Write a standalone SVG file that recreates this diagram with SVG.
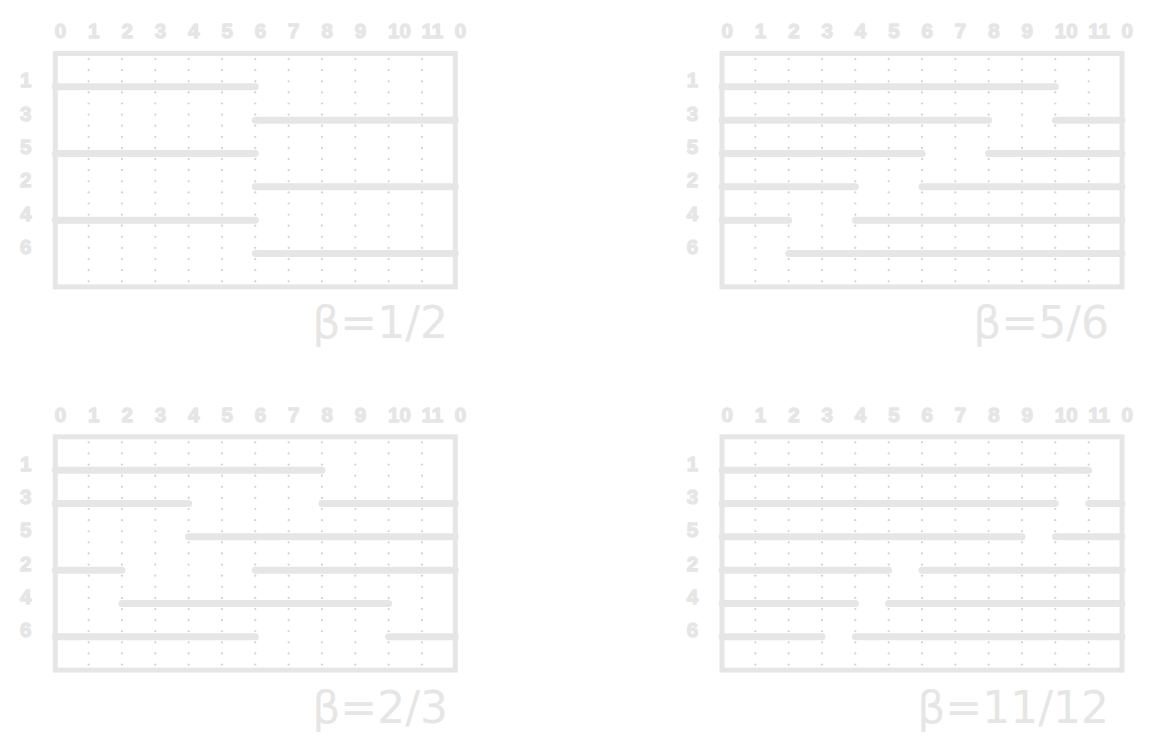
<svg xmlns="http://www.w3.org/2000/svg" xmlns:xlink="http://www.w3.org/1999/xlink" width="1154" height="754" viewBox="0 0 1154 754">
<style>
.frame{fill:none;stroke:#e6e6e6;stroke-width:5}
.dot{stroke:#d2d2d2;stroke-width:2.2;stroke-linecap:round;stroke-dasharray:0 11.111}
.seg{stroke:#e6e6e6;stroke-width:7;stroke-linecap:round;fill:none}
.lab{font-family:"Liberation Sans",Arial,sans-serif;font-weight:bold;font-size:20.5px;fill:#e6e6e6;stroke:#e6e6e6;stroke-width:1.3;stroke-linejoin:round}
.beta{font-family:"DejaVu Sans",sans-serif;font-size:44px;fill:#e6e6e6;text-anchor:end}
</style>
<rect width="1154" height="754" fill="#ffffff"/>
<defs>
<g id="grid">
<g>
<line class="dot" x1="33.333" y1="5.556" x2="33.333" y2="229"/>
<line class="dot" x1="66.667" y1="5.556" x2="66.667" y2="229"/>
<line class="dot" x1="100" y1="5.556" x2="100" y2="229"/>
<line class="dot" x1="133.333" y1="5.556" x2="133.333" y2="229"/>
<line class="dot" x1="166.667" y1="5.556" x2="166.667" y2="229"/>
<line class="dot" x1="200" y1="5.556" x2="200" y2="229"/>
<line class="dot" x1="233.333" y1="5.556" x2="233.333" y2="229"/>
<line class="dot" x1="266.667" y1="5.556" x2="266.667" y2="229"/>
<line class="dot" x1="300" y1="5.556" x2="300" y2="229"/>
<line class="dot" x1="333.333" y1="5.556" x2="333.333" y2="229"/>
<line class="dot" x1="366.667" y1="5.556" x2="366.667" y2="229"/>
</g>
<rect class="frame" x="0" y="0" width="400" height="233.333"/>
<g class="lab">
<text x="-0.5" y="-15.3">0</text>
<text x="32.8" y="-15.3">1</text>
<text x="66.2" y="-15.3">2</text>
<text x="99.5" y="-15.3">3</text>
<text x="132.8" y="-15.3">4</text>
<text x="166.2" y="-15.3">5</text>
<text x="199.5" y="-15.3">6</text>
<text x="232.8" y="-15.3">7</text>
<text x="266.2" y="-15.3">8</text>
<text x="299.5" y="-15.3">9</text>
<text x="332.8" y="-15.3">10</text>
<text x="366.2" y="-15.3">11</text>
<text x="399.5" y="-15.3">0</text>
<text x="-35.3" y="33.9">1</text>
<text x="-35.3" y="67.2">3</text>
<text x="-35.3" y="100.6">5</text>
<text x="-35.3" y="133.9">2</text>
<text x="-35.3" y="167.2">4</text>
<text x="-35.3" y="200.6">6</text>
</g>
</g>
</defs>

<g id="panel-half" transform="translate(55.3,53.5)">
<use xlink:href="#grid" href="#grid"/>
<g class="seg">
<line x1="0" y1="33.333" x2="200" y2="33.333"/>
<line x1="200" y1="66.667" x2="400" y2="66.667"/>
<line x1="0" y1="100" x2="200" y2="100"/>
<line x1="200" y1="133.333" x2="400" y2="133.333"/>
<line x1="0" y1="166.667" x2="200" y2="166.667"/>
<line x1="200" y1="200" x2="400" y2="200"/>
</g>
</g>

<g id="panel-five-sixths" transform="translate(722,53.5)">
<use xlink:href="#grid" href="#grid"/>
<g class="seg">
<line x1="0" y1="33.333" x2="333.333" y2="33.333"/>
<line x1="0" y1="66.667" x2="266.667" y2="66.667"/>
<line x1="333.333" y1="66.667" x2="400" y2="66.667"/>
<line x1="0" y1="100" x2="200" y2="100"/>
<line x1="266.667" y1="100" x2="400" y2="100"/>
<line x1="0" y1="133.333" x2="133.333" y2="133.333"/>
<line x1="200" y1="133.333" x2="400" y2="133.333"/>
<line x1="0" y1="166.667" x2="66.667" y2="166.667"/>
<line x1="133.333" y1="166.667" x2="400" y2="166.667"/>
<line x1="66.667" y1="200" x2="400" y2="200"/>
</g>
</g>

<g id="panel-two-thirds" transform="translate(55.3,436.8)">
<use xlink:href="#grid" href="#grid"/>
<g class="seg">
<line x1="0" y1="33.333" x2="266.667" y2="33.333"/>
<line x1="0" y1="66.667" x2="133.333" y2="66.667"/>
<line x1="266.667" y1="66.667" x2="400" y2="66.667"/>
<line x1="133.333" y1="100" x2="400" y2="100"/>
<line x1="0" y1="133.333" x2="66.667" y2="133.333"/>
<line x1="200" y1="133.333" x2="400" y2="133.333"/>
<line x1="66.667" y1="166.667" x2="333.333" y2="166.667"/>
<line x1="0" y1="200" x2="200" y2="200"/>
<line x1="333.333" y1="200" x2="400" y2="200"/>
</g>
</g>

<g id="panel-eleven-twelfths" transform="translate(722,436.8)">
<use xlink:href="#grid" href="#grid"/>
<g class="seg">
<line x1="0" y1="33.333" x2="366.667" y2="33.333"/>
<line x1="0" y1="66.667" x2="333.333" y2="66.667"/>
<line x1="366.667" y1="66.667" x2="400" y2="66.667"/>
<line x1="0" y1="100" x2="300" y2="100"/>
<line x1="333.333" y1="100" x2="400" y2="100"/>
<line x1="0" y1="133.333" x2="166.667" y2="133.333"/>
<line x1="200" y1="133.333" x2="400" y2="133.333"/>
<line x1="0" y1="166.667" x2="133.333" y2="166.667"/>
<line x1="166.667" y1="166.667" x2="400" y2="166.667"/>
<line x1="0" y1="200" x2="100" y2="200"/>
<line x1="133.333" y1="200" x2="400" y2="200"/>
</g>
</g>

<g id="labels">
<text class="beta" x="448" y="338">β=1/2</text>
<text class="beta" x="1109" y="338">β=5/6</text>
<text class="beta" x="448" y="722.5">β=2/3</text>
<text class="beta" x="1109" y="722.5">β=11/12</text>
</g>
</svg>
